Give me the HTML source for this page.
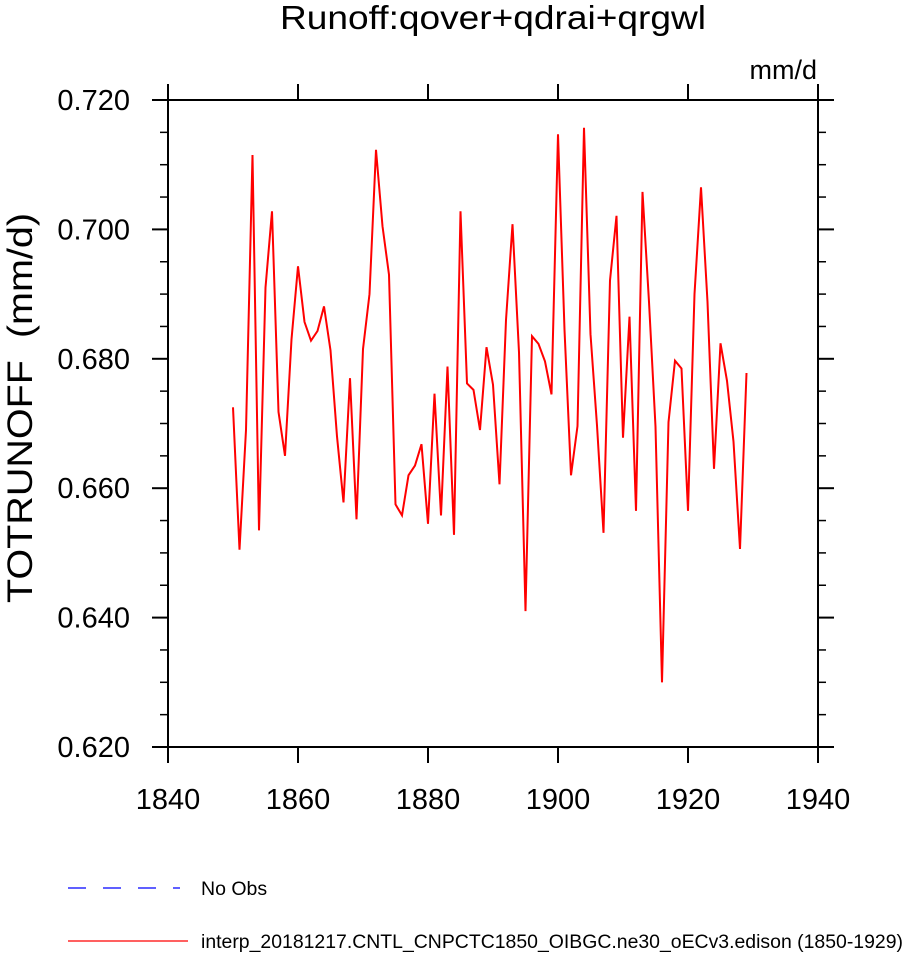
<!DOCTYPE html>
<html><head><meta charset="utf-8">
<style>
body{margin:0;background:#fff;}
svg text{font-family:"Liberation Sans",Helvetica,sans-serif;fill:#000;}
</style></head>
<body>
<svg width="915" height="952" viewBox="0 0 915 952" xmlns="http://www.w3.org/2000/svg">
<text x="280" y="29" font-size="33" textLength="426" lengthAdjust="spacingAndGlyphs">Runoff:qover+qdrai+qrgwl</text>
<text x="817" y="79" font-size="27" text-anchor="end">mm/d</text>
<text transform="translate(32,603) rotate(-90)" font-size="35" textLength="390" lengthAdjust="spacingAndGlyphs" xml:space="preserve">TOTRUNOFF  (mm/d)</text>
<g id="axes"></g>
<g id="series"></g>
<g>
<line x1="68" y1="888" x2="180" y2="888" stroke="#0000ff" stroke-width="1.3" stroke-dasharray="18,17"/>
<text x="201" y="895" font-size="19.5">No Obs</text>
<line x1="68" y1="941" x2="188" y2="941" stroke="#ff0000" stroke-width="1.3"/>
<text x="201" y="948" font-size="19.5" textLength="702" lengthAdjust="spacingAndGlyphs">interp_20181217.CNTL_CNPCTC1850_OIBGC.ne30_oECv3.edison (1850-1929)</text>
</g>
</svg>
<script>
const startYear = 1850;
const runoff = [0.6725,0.6505,0.669,0.7115,0.6535,0.691,0.7028,0.6718,0.665,0.683,
0.6943,0.6857,0.6828,0.6843,0.6881,0.6813,0.668,0.6578,0.677,0.6552,
0.6815,0.690,0.7123,0.7005,0.693,0.6575,0.6558,0.662,0.6635,0.6668,
0.6545,0.6746,0.6558,0.6788,0.6528,0.7028,0.6762,0.6752,0.669,0.6818,
0.676,0.6606,0.686,0.7008,0.681,0.641,0.6835,0.6823,0.6796,0.6745,
0.7147,0.6845,0.662,0.6696,0.7157,0.6838,0.6697,0.6531,0.6921,0.7021,
0.6678,0.6865,0.6565,0.7058,0.6888,0.6695,0.630,0.6702,0.6797,0.6785,
0.6565,0.690,0.7065,0.6888,0.663,0.6824,0.6766,0.6672,0.6506,0.6778];
const xTicks = [1840,1860,1880,1900,1920,1940];
const yTicks = [0.620,0.640,0.660,0.680,0.700,0.720];
const yTickLabels = ["0.620","0.640","0.660","0.680","0.700","0.720"];

const L=168,R=818,T=100,B=747;
const xMin=1840,xMax=1940,yMin=0.62,yMax=0.72;
const sx=v=>L+(v-xMin)/(xMax-xMin)*(R-L);
const sy=v=>B-(v-yMin)/(yMax-yMin)*(B-T);
const NS="http://www.w3.org/2000/svg";
const axes=document.getElementById('axes');
function mk(tag,attrs,parent){const e=document.createElementNS(NS,tag);for(const k in attrs)e.setAttribute(k,attrs[k]);parent.appendChild(e);return e;}
const frame=mk('rect',{x:L,y:T,width:R-L,height:B-T,fill:'none',stroke:'#000','stroke-width':2},axes);


xTicks.forEach(t=>{
  const x=sx(t);
  const a=mk('line',{x1:x,y1:B,x2:x,y2:B+16,stroke:'#000','stroke-width':2},axes);
  
  
  const b=mk('line',{x1:x,y1:T,x2:x,y2:T-16,stroke:'#000','stroke-width':2},axes);
  
  
  const lb=mk('text',{x:x,y:809,'font-size':29,'text-anchor':'middle'},axes);
  lb.textContent=t;
  
  
});
for(let i=0;i<=20;i++){
  const v=yMin+i*0.005;const y=sy(v);const major=i%4===0;const len=major?16:8;
  const a=mk('line',{x1:L,y1:y,x2:L-len,y2:y,stroke:'#000','stroke-width':major?2:1.5},axes);
  
  
  const b=mk('line',{x1:R,y1:y,x2:R+len,y2:y,stroke:'#000','stroke-width':major?2:1.5},axes);
  
  
}
yTicks.forEach((t,i)=>{
  const lb=mk('text',{x:130,y:sy(t)+10,'font-size':29,'text-anchor':'end'},axes);
  lb.textContent=yTickLabels[i];
  
  
});
const pts=runoff.map((v,i)=>sx(startYear+i).toFixed(1)+','+sy(v).toFixed(1)).join(' ');
const line=mk('polyline',{points:pts,fill:'none',stroke:'#ff0000','stroke-width':2,'stroke-linejoin':'miter'},document.getElementById('series'));


</script>
</body></html>
